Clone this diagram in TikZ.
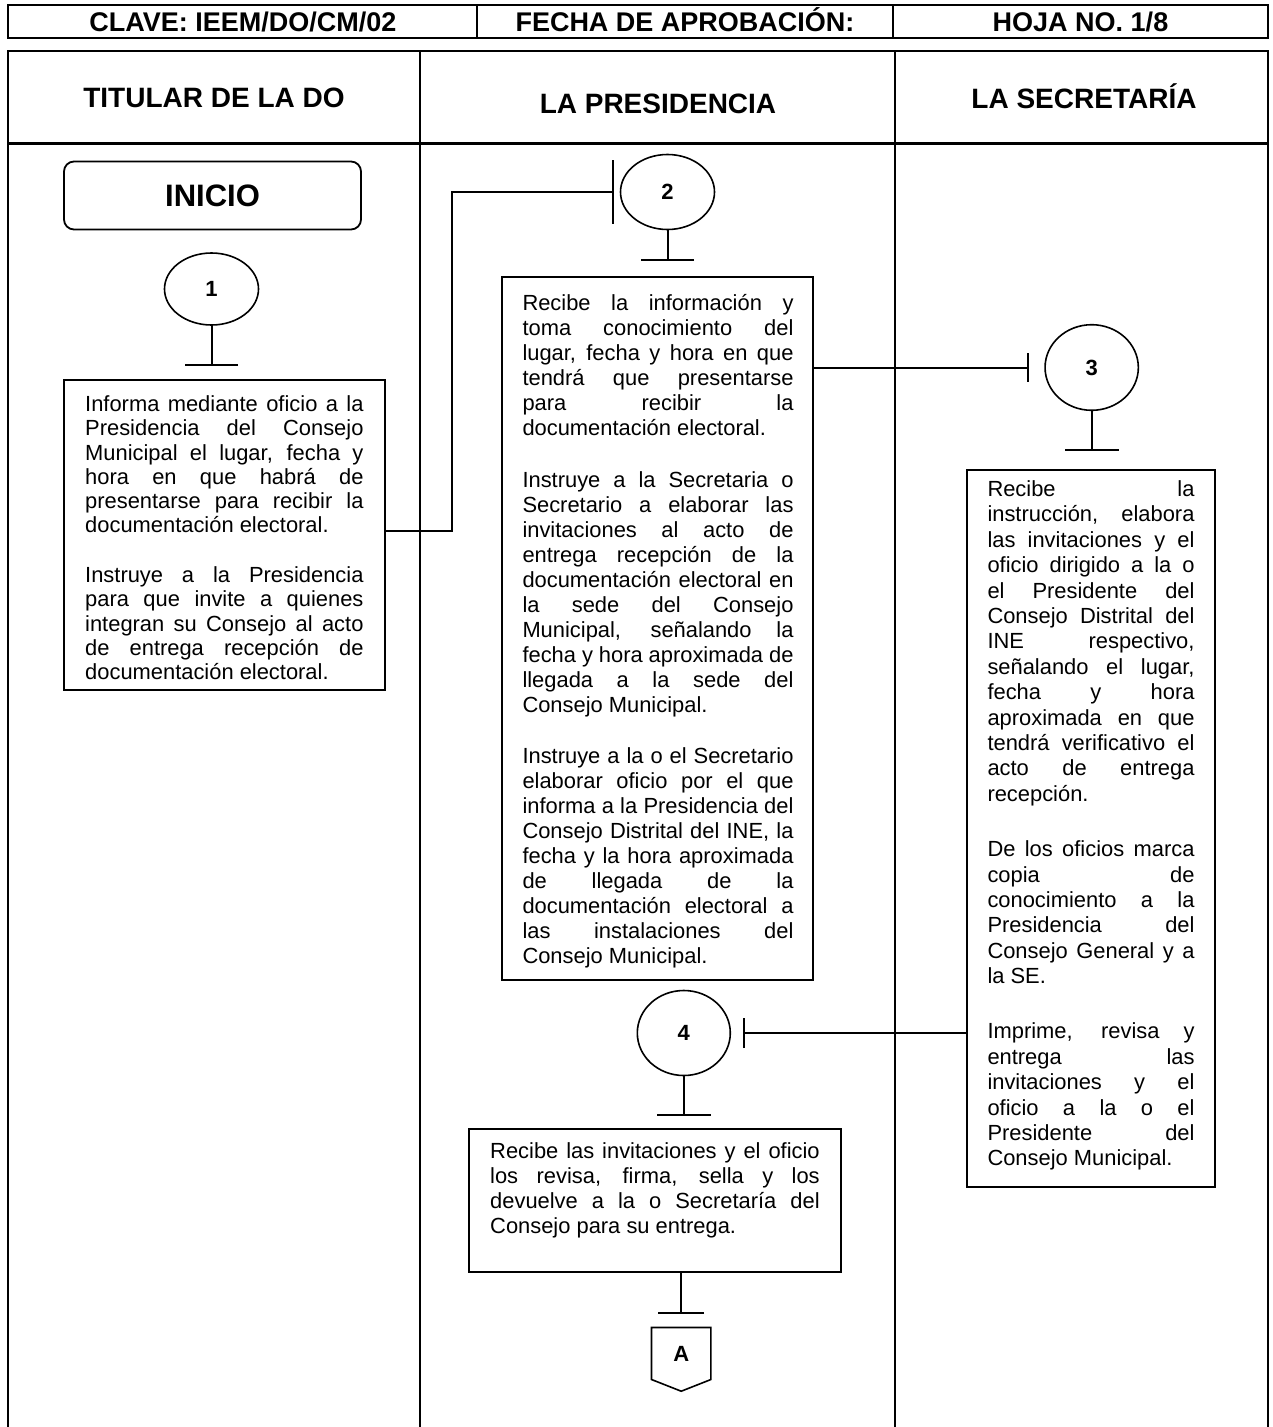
\documentclass[tikz,border=0pt]{standalone}
\usepackage{fontspec}
\setmainfont{Liberation Sans}
\usetikzlibrary{arrows.meta,shapes.geometric,calc}

\newcommand\jl[1]{\makebox[\linewidth][s]{#1}\par}
\newcommand\el[1]{\mbox{#1}\par}
\newcommand\pg{\vspace{\dimexpr\baselineskip+1.5pt\relax}}
\newcommand\pgw{\vspace{\dimexpr\baselineskip+4.5pt\relax}}

\tikzset{
  frame/.style={line width=2.4pt},
  procbox/.style={draw, rectangle, line width=2pt, inner sep=0pt},
  startbox/.style={draw, rectangle, rounded corners=10pt, line width=1.8pt, inner sep=0pt,
    font=\fontsize{31}{36}\selectfont\bfseries},
  conn/.style={draw, ellipse, line width=1.6pt, inner sep=0pt,
    font=\fontsize{22}{26}\selectfont\bfseries},
  flow/.style={line width=2pt},
  hdr/.style={inner sep=0pt, anchor=base, font=\fontsize{27}{32}\selectfont\bfseries},
  lane/.style={inner sep=0pt, anchor=base, font=\fontsize{28}{33}\selectfont\bfseries},
  body/.style={inner sep=0pt, anchor=base west, font=\fontsize{21.9}{25}\selectfont},
  bodyA/.style={inner sep=0pt, anchor=base west, font=\fontsize{21.9}{24.2}\selectfont},
  bodyC/.style={inner sep=0pt, anchor=base west, font=\fontsize{21.9}{25.4}\selectfont},
}

\begin{document}
\begin{tikzpicture}[x=1pt, y=-1pt]
\useasboundingbox (0,0) rectangle (1272,1427);
\fill[white] (0,0) rectangle (1272,1427);

% header row
\draw[frame] (8,5) rectangle (1268,38);
\draw[frame] (477,5) -- (477,38);
\draw[frame] (893,5) -- (893,38);
\node[hdr] (h1) at (243,31.5) {CLAVE: IEEM/DO/CM/02};
\node[hdr] (h2) at (685,31.5) {FECHA DE APROBACIÓN:};
\node[hdr] (h3) at (1080.5,31.5) {HOJA NO. 1/8};

% swimlane frame
\draw[frame] (8,1427) -- (8,50.7) -- (1268,50.7) -- (1268,1427);
\draw[frame] (8,143.3) -- (1268,143.3);
\draw[frame] (420,50.7) -- (420,1427);
\draw[frame] (895,50.7) -- (895,1427);
\node[lane] (l1) at (214,107) {TITULAR DE LA DO};
\node[lane] (l2) at (658,113) {LA PRESIDENCIA};
\node[lane] (l3) at (1084,108) {LA SECRETARÍA};

% start
\node[startbox, minimum width=297pt, minimum height=68pt] (inicio) at (212.5,195.5) {INICIO};

% connectors (circles)
\node[conn, minimum width=94pt, minimum height=72pt] (c1) at (211.5,289) {1};
\node[conn, minimum width=94pt, minimum height=75pt] (c2) at (667.5,192) {2};
\node[conn, minimum width=93.3pt, minimum height=85.6pt] (c3) at (1091.7,367.5) {3};
\node[conn, minimum width=93pt, minimum height=85pt] (c4) at (683.8,1033) {4};

% process boxes
\node[procbox, minimum width=321pt, minimum height=310pt] (b1) at (224.5,535) {};
\node[procbox, minimum width=311.6pt, minimum height=703pt] (b2) at (657.5,628.5) {};
\node[procbox, minimum width=247.8pt, minimum height=717pt] (b3) at (1090.6,828.5) {};
\node[procbox, minimum width=371.6pt, minimum height=143.3pt] (b4) at (654.8,1200.65) {};

% texts
\node[bodyA] (t1) at (85,411.7) {\parbox[t]{278.3pt}{%
\jl{Informa mediante oficio a la}
\jl{Presidencia del Consejo}
\jl{Municipal el lugar, fecha y}
\jl{hora en que habrá de}
\jl{presentarse para recibir la}
\el{documentación electoral.}
\pg
\jl{Instruye a la Presidencia}
\jl{para que invite a quienes}
\jl{integran su Consejo al acto}
\jl{de entrega recepción de}
\el{documentación electoral.}}};

\node[body] (t2) at (522.3,310.7) {\parbox[t]{271pt}{%
\jl{Recibe la información y}
\jl{toma conocimiento del}
\jl{lugar, fecha y hora en que}
\jl{tendrá que presentarse}
\jl{para recibir la}
\el{documentación electoral.}
\pg
\jl{Instruye a la Secretaria o}
\jl{Secretario a elaborar las}
\jl{invitaciones al acto de}
\jl{entrega recepción de la}
\jl{documentación electoral en}
\jl{la sede del Consejo}
\jl{Municipal, señalando la}
\jl{fecha y hora aproximada de}
\jl{llegada a la sede del}
\el{Consejo Municipal.}
\pg
\jl{Instruye a la o el Secretario}
\jl{elaborar oficio por el que}
\jl{informa a la Presidencia del}
\jl{Consejo Distrital del INE, la}
\jl{fecha y la hora aproximada}
\jl{de llegada de la}
\jl{documentación electoral a}
\jl{las instalaciones del}
\el{Consejo Municipal.}}};

\node[bodyC] (t3) at (987.3,496.5) {\parbox[t]{207pt}{%
\jl{Recibe la}
\jl{instrucción, elabora}
\jl{las invitaciones y el}
\jl{oficio dirigido a la o}
\jl{el Presidente del}
\jl{Consejo Distrital del}
\jl{INE respectivo,}
\jl{señalando el lugar,}
\jl{fecha y hora}
\jl{aproximada en que}
\jl{tendrá verificativo el}
\jl{acto de entrega}
\el{recepción.}
\pgw
\jl{De los oficios marca}
\jl{copia de}
\jl{conocimiento a la}
\jl{Presidencia del}
\jl{Consejo General y a}
\el{la SE.}
\pgw
\jl{Imprime, revisa y}
\jl{entrega las}
\jl{invitaciones y el}
\jl{oficio a la o el}
\jl{Presidente del}
\el{Consejo Municipal.}}};

\node[body] (t4) at (490,1158) {\parbox[t]{329.5pt}{%
\jl{Recibe las invitaciones y el oficio}
\jl{los revisa, firma, sella y los}
\jl{devuelve a la o Secretaría del}
\el{Consejo para su entrega.}}};

% off-page connector
\node[inner sep=0pt, minimum width=59pt, minimum height=51.6pt,
  font=\fontsize{22}{26}\selectfont\bfseries] (offA) at (681.2,1353.5) {A};
\draw[line width=1.6pt] (offA.north west) -- (offA.north east) -- (offA.south east)
  -- ($(offA.south)+(0,11.7)$) -- (offA.south west) -- cycle;

% flow lines
\coordinate (j12) at (452,531);
\draw[flow, -{Bar[width=53pt]}, shorten >=13.3pt] (c1.south) -- (c1.south |- b1.north);
\draw[flow, -{Bar[width=64pt]}, shorten >=6.2pt] (j12 -| b1.east) -- (j12) |- (c2.west);
\draw[flow, -{Bar[width=53pt]}, shorten >=15.3pt] (c2.south) -- (c2.south |- b2.north);
\draw[flow, -{Bar[width=29pt]}, shorten >=15pt] (c3.west -| b2.east) -- (c3.west);
\draw[flow, -{Bar[width=54pt]}, shorten >=18pt] (c3.south) -- (c3.south |- b3.north);
\draw[flow, -{Bar[width=30pt]}, shorten >=11.7pt] (c4.east -| b3.west) -- (c4.east);
\draw[flow, -{Bar[width=54pt]}, shorten >=11.7pt] (c4.south) -- (c4.south |- b4.north);
\draw[flow, -{Bar[width=46pt]}, shorten >=13.7pt] (offA.north |- b4.south) -- (offA.north);
\end{tikzpicture}
\end{document}
